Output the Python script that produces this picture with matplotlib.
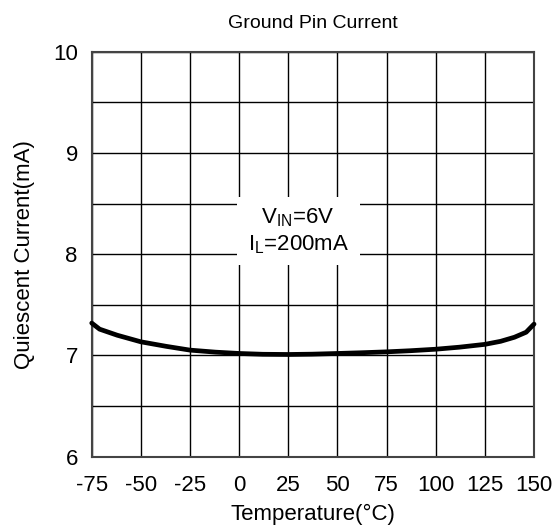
import matplotlib
matplotlib.use("Agg")
import matplotlib.pyplot as plt
import numpy as np
from matplotlib.patches import Rectangle

plt.rcParams["font.family"] = ["Liberation Sans", "DejaVu Sans"]
plt.rcParams["mathtext.fontset"] = "custom"
plt.rcParams["mathtext.rm"] = "Liberation Sans"
plt.rcParams["mathtext.it"] = "Liberation Sans"
plt.rcParams["axes.unicode_minus"] = False

temp = [-75, -71, -62, -50, -37, -25, -12, 0, 12, 25, 37, 50, 62, 75, 87, 100, 112, 125, 133, 140, 146, 150]
iq = [7.32, 7.26, 7.20, 7.135, 7.09, 7.053, 7.033, 7.02, 7.012, 7.01, 7.013, 7.02, 7.027, 7.036, 7.047, 7.062, 7.082, 7.11, 7.14, 7.18, 7.23, 7.31]

xticks = [-75, -50, -25, 0, 25, 50, 75, 100, 125, 150]
yticks = [6, 7, 8, 9, 10]
ygrid = np.arange(6, 10.01, 0.5)

fig = plt.figure(figsize=(5.56, 5.25), dpi=100)
ax = fig.add_axes([0.165, 0.130, 0.7955, 0.7715])

ax.set_xlim(-75, 150)
ax.set_ylim(6, 10)
ax.set_xticks(xticks)
ax.set_yticks(yticks)
ax.set_yticks(ygrid, minor=True)
ax.tick_params(which="both", length=0, labelsize=16)
ax.tick_params(axis="x", pad=13)
ax.tick_params(axis="y", pad=10)
ax.grid(which="both", color="black", linewidth=1.0)
ax.set_axisbelow(True)
for s in ax.spines.values():
    s.set_color("#444444")
    s.set_linewidth(1.5)

# label box hides the grid behind it
ax.add_patch(Rectangle((-1, 7.89), 62.5, 0.676, facecolor="white",
                       edgecolor="none", zorder=1.5))
ax.text(30, 8.36, r"V$_{\mathrm{IN}}$=6V", ha="center", va="center",
        fontsize=16, zorder=3)
ax.text(30, 8.09, r"I$_{\mathrm{L}}$=200mA", ha="center", va="center",
        fontsize=16, zorder=3)

ax.plot(temp, iq, color="black", linewidth=3.4, solid_capstyle="round",
        solid_joinstyle="round", zorder=4, clip_on=False)

ax.set_xlabel("Temperature(°C)", fontsize=16, labelpad=6)
ax.set_ylabel("Quiescent Current(mA)", fontsize=16, labelpad=13)
ax.set_title("Ground Pin Current", fontsize=14, pad=17)

fig.savefig("out.png", dpi=100)
